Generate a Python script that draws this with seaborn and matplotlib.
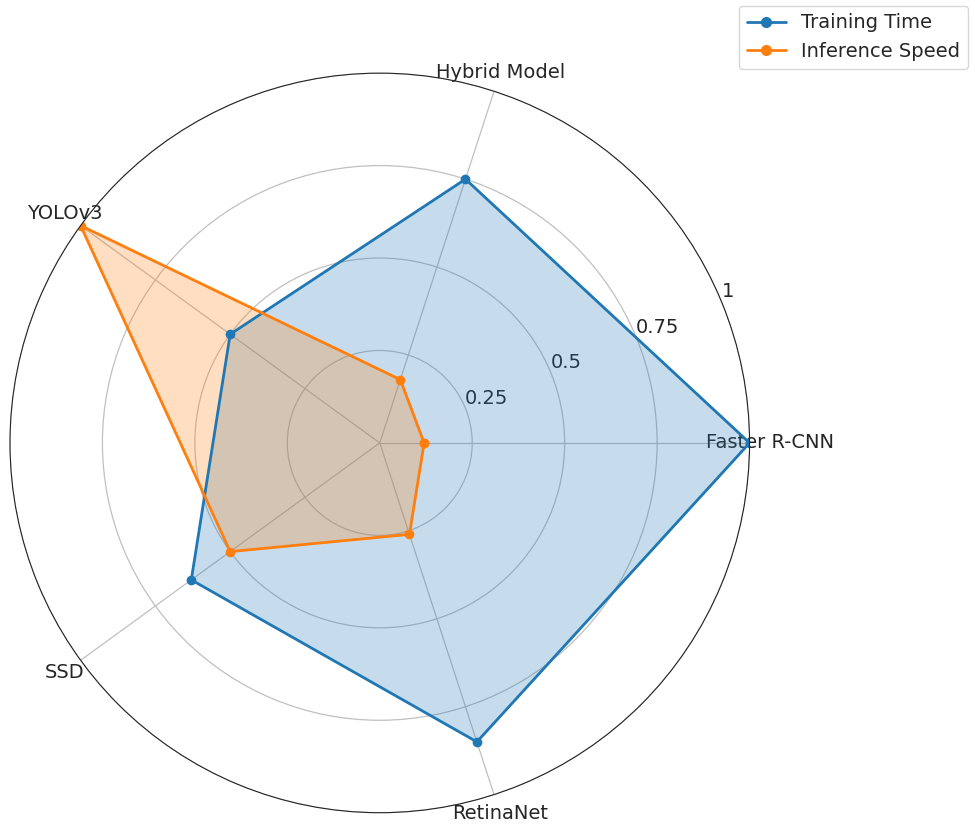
import numpy as np
import pandas as pd
import matplotlib
matplotlib.use("Agg")
import matplotlib.pyplot as plt
import seaborn as sns

# Data (normalised scores)
models = ["Faster R-CNN", "Hybrid Model", "YOLOv3", "SSD", "RetinaNet"]
training_time = [1.0, 0.75, 0.50, 0.63, 0.85]
inference_speed = [0.12, 0.18, 1.0, 0.50, 0.26]
series_names = ["Training Time", "Inference Speed"]
r_ticks = [0.25, 0.5, 0.75, 1.0]
r_tick_labels = ["0.25", "0.5", "0.75", "1"]

sns.set_style("white")
plt.rcParams["font.family"] = ["DejaVu Sans"]
plt.rcParams["font.size"] = 14
colors = sns.color_palette("tab10")

angles = np.linspace(0, 2 * np.pi, len(models), endpoint=False)
closed_angles = np.append(angles, 2 * np.pi)

# long-form table, loop closed by repeating the first value
rows = []
for name, vals in zip(series_names, [training_time, inference_speed]):
    closed = list(vals) + [vals[0]]
    for a, v in zip(closed_angles, closed):
        rows.append({"series": name, "angle": a, "value": v})
df = pd.DataFrame(rows)

fig = plt.figure(figsize=(9.75, 8.31), dpi=100)
ax = fig.add_axes([0.010, 0.022, 0.759, 0.890], projection="polar")

for idx, name in enumerate(series_names):
    sub = df[df["series"] == name]
    sns.lineplot(data=sub, x="angle", y="value", sort=False, estimator=None,
                 marker="o", markersize=7, markeredgewidth=0, linewidth=2,
                 color=colors[idx], ax=ax, legend=False)
    ax.fill(sub["angle"].values, sub["value"].values, color=colors[idx], alpha=0.25)

ax.set_ylim(0, 1.0)
ax.set_xticks(angles)
ax.set_xticklabels(models)
ax.set_yticks(r_ticks)
ax.set_yticklabels(r_tick_labels)
ax.set_rlabel_position(22.5)
ax.set_xlabel("")
ax.set_ylabel("")
ax.grid(True, color="#c0c0c0", linewidth=0.9)
ax.spines["polar"].set_color("#222222")
ax.tick_params(axis="x", pad=4)

handles = [plt.Line2D([], [], color=colors[i], marker="o", linewidth=2, markersize=7)
           for i in range(len(series_names))]
fig.legend(handles, series_names, loc="upper right",
           bbox_to_anchor=(1.003, 1.005), frameon=True)

fig.savefig("out.png", dpi=100)
